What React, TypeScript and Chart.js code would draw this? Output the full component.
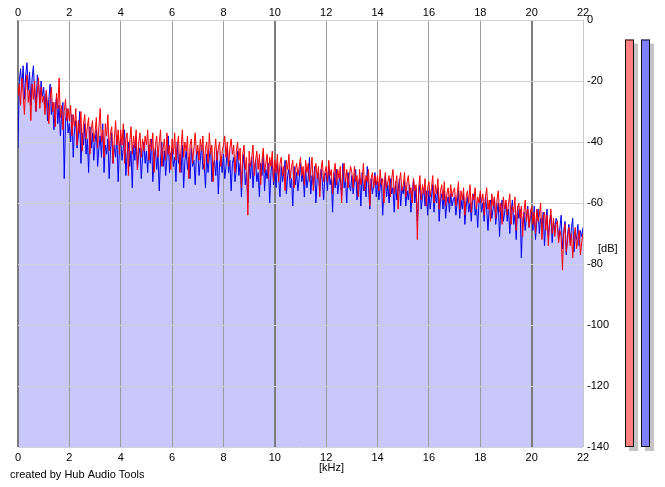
import React, { useEffect, useRef } from "react";
import { Chart, registerables } from "chart.js";

Chart.register(...registerables);

// Spectrum values in dB, one value every 0.05 kHz from 0 to 22 kHz
const FREQ_STEP_KHZ = 0.05;

const leftChannelDb = [
  -25, -21, -28, -19, -24, -31, -22, -18, -27, -23,
  -33, -21, -26, -20, -30, -24, -19, -29, -22, -27,
  -25, -31, -23, -28, -34, -26, -22, -30, -27, -35,
  -24, -29, -19, -32, -28, -36, -30, -26, -33, -29,
  -33, -28, -38, -31, -35, -29, -41, -33, -37, -30,
  -43, -34, -31, -39, -35, -32, -44, -36, -33, -40,
  -37, -32, -42, -35, -29, -40, -36, -45, -34, -38,
  -31, -43, -37, -35, -47, -39, -33, -41, -36, -44,
  -36, -41, -34, -47, -39, -37, -51, -40, -35, -44,
  -38, -42, -36, -49, -40, -37, -45, -39, -43, -38,
  -41, -36, -46, -39, -43, -37, -50, -41, -38, -45,
  -40, -36, -48, -42, -39, -46, -37, -44, -41, -49,
  -39, -44, -37, -46, -41, -38, -50, -42, -36, -45,
  -40, -43, -38, -52, -41, -39, -47, -42, -37, -44,
  -41, -46, -39, -43, -38, -49, -42, -40, -47, -37,
  -44, -41, -53, -43, -39, -46, -42, -40, -48, -43,
  -41, -38, -45, -40, -48, -42, -39, -44, -41, -50,
  -43, -40, -46, -42, -55, -44, -41, -49, -45, -64,
  -43, -48, -45, -41, -51, -46, -43, -49, -44, -54,
  -46, -42, -50, -47, -44, -52, -45, -48, -43, -53,
  -46, -50, -44, -53, -47, -45, -51, -48, -56, -46,
  -49, -44, -52, -48, -46, -55, -49, -47, -51, -48,
  -45, -51, -48, -54, -46, -50, -47, -53, -49, -45,
  -56, -50, -47, -52, -48, -58, -49, -46, -53, -50,
  -48, -53, -46, -51, -49, -57, -50, -47, -54, -49,
  -52, -48, -60, -50, -47, -53, -49, -55, -51, -48,
  -50, -55, -48, -53, -51, -58, -49, -54, -52, -47,
  -56, -51, -53, -49, -61, -52, -50, -55, -51, -54,
  -51, -56, -49, -54, -52, -60, -50, -55, -53, -51,
  -58, -52, -49, -57, -54, -51, -62, -53, -50, -56,
  -54, -50, -58, -53, -51, -57, -55, -60, -52, -56,
  -54, -72, -55, -51, -59, -54, -57, -52, -61, -55,
  -53, -58, -55, -51, -60, -54, -57, -52, -62, -56,
  -54, -59, -53, -61, -57, -55, -60, -54, -58, -56,
  -55, -61, -57, -53, -62, -56, -59, -55, -64, -58,
  -56, -60, -54, -63, -57, -59, -55, -62, -58, -60,
  -56, -60, -57, -64, -58, -55, -62, -59, -66, -57,
  -61, -58, -65, -59, -56, -63, -60, -67, -58, -62,
  -59, -64, -60, -57, -67, -61, -63, -58, -69, -62,
  -60, -65, -61, -71, -63, -59, -66, -62, -68, -63,
  -61, -67, -63, -70, -62, -66, -64, -60, -72, -65,
  -63, -69, -64, -74, -66, -62, -70, -65, -71, -67,
  -66, -73, -69, -71, -82, -70, -67, -76, -72, -68,
  -74, -70, -78, -71, -68, -75, -72, -69, -77, -73,
  -70,
];

const rightChannelDb = [
  -42, -20, -16, -22, -15, -26, -18, -14, -23, -17,
  -28, -19, -15, -24, -30, -18, -21, -27, -20, -25,
  -22, -29, -24, -33, -26, -21, -31, -27, -36, -29,
  -25, -34, -28, -38, -31, -27, -52, -33, -29, -37,
  -34, -40, -31, -45, -36, -33, -42, -38, -30, -47,
  -37, -41, -34, -44, -39, -50, -35, -42, -37, -46,
  -40, -36, -48, -42, -38, -45, -34, -50, -41, -44,
  -39, -52, -43, -37, -47, -41, -45, -38, -53, -42,
  -39, -46, -42, -36, -51, -44, -40, -48, -43, -55,
  -41, -46, -38, -49, -44, -42, -52, -45, -40, -47,
  -43, -50, -41, -47, -39, -53, -45, -42, -49, -44,
  -56, -46, -40, -48, -43, -51, -45, -38, -50, -44,
  -42, -48, -45, -53, -40, -47, -44, -50, -41, -55,
  -46, -43, -49, -45, -52, -42, -48, -46, -54, -44,
  -43, -51, -46, -41, -49, -47, -55, -44, -50, -45,
  -42, -53, -48, -46, -51, -43, -57, -47, -45, -50,
  -44, -52, -48, -42, -50, -46, -56, -47, -45, -53,
  -49, -43, -51, -47, -58, -48, -44, -54, -50, -60,
  -47, -52, -45, -55, -49, -46, -53, -50, -58, -47,
  -51, -44, -56, -49, -52, -47, -60, -50, -46, -54,
  -49, -55, -47, -52, -58, -48, -53, -50, -46, -57,
  -51, -49, -55, -52, -61, -48, -54, -50, -56, -52,
  -47, -53, -50, -58, -49, -55, -52, -45, -57, -51,
  -54, -48, -60, -52, -50, -56, -49, -53, -59, -51,
  -50, -56, -48, -54, -52, -63, -50, -55, -49, -57,
  -53, -51, -58, -47, -55, -52, -60, -50, -54, -56,
  -51, -57, -53, -49, -59, -54, -52, -61, -50, -56,
  -53, -58, -48, -55, -62, -52, -57, -54, -50, -58,
  -53, -59, -55, -52, -64, -56, -51, -58, -54, -60,
  -52, -57, -55, -63, -53, -59, -56, -52, -61, -55,
  -57, -53, -61, -56, -59, -54, -63, -57, -52, -60,
  -55, -66, -57, -54, -62, -58, -55, -61, -56, -64,
  -56, -62, -58, -54, -63, -57, -60, -55, -66, -59,
  -57, -62, -56, -65, -60, -58, -63, -57, -61, -59,
  -58, -64, -60, -56, -65, -59, -62, -57, -67, -61,
  -58, -63, -60, -66, -59, -57, -64, -61, -68, -60,
  -57, -63, -60, -66, -58, -62, -69, -61, -59, -65,
  -62, -58, -67, -63, -60, -71, -62, -59, -66, -63,
  -60, -66, -62, -70, -63, -59, -67, -64, -72, -61,
  -65, -62, -78, -66, -63, -69, -64, -61, -68, -65,
  -63, -69, -61, -72, -66, -62, -70, -65, -68, -63,
  -74, -66, -62, -71, -67, -64, -73, -66, -69, -65,
  -66, -72, -68, -64, -75, -69, -66, -77, -70, -67,
  -73, -68, -65, -76, -70, -72, -67, -74, -69, -71,
  -68,
];

// Level meters (peak dB) for left / right channel
const meterPeaksDb = [-6.4, -6.4];

const X_MIN = 0;
const X_MAX = 22;
const X_STEP = 2;
const Y_MIN = -140;
const Y_MAX = 0;
const Y_STEP = 20;

const FONT = '"Liberation Sans", Arial, sans-serif';

const overlayPlugin = {
  id: "overlay",
  afterDraw(chart: any) {
    const ctx = chart.ctx;
    const y = chart.scales.y;
    const bottom = y.getPixelForValue(Y_MIN);
    const meters = [
      { x: 625, color: "#ff8080", v: meterPeaksDb[0] },
      { x: 641, color: "#8080ff", v: meterPeaksDb[1] },
    ];
    ctx.save();
    meters.forEach((m) => {
      const top = y.getPixelForValue(m.v);
      ctx.fillStyle = "#c4c4c4";
      ctx.fillRect(m.x + 4, top + 4, 9, bottom - top);
      ctx.fillStyle = m.color;
      ctx.fillRect(m.x, top, 9, bottom - top);
      ctx.strokeStyle = "#101010";
      ctx.lineWidth = 1;
      ctx.strokeRect(m.x + 0.5, top + 0.5, 8, bottom - top - 1);
    });
    ctx.fillStyle = "#000";
    ctx.font = `11px ${FONT}`;
    ctx.textBaseline = "middle";
    ctx.textAlign = "left";
    ctx.fillText("[dB]", 598, 249);
    ctx.fillText("[kHz]", 319, 468);
    ctx.fillText("created by Hub Audio Tools", 10, 475);
    ctx.restore();
  },
};

export default function App() {
  const ref = useRef<HTMLCanvasElement | null>(null);

  useEffect(() => {
    if (!ref.current) return;
    const toPoints = (arr: number[]) =>
      arr.map((v, i) => ({ x: +(i * FREQ_STEP_KHZ).toFixed(2), y: v }));

    const chart = new Chart(ref.current, {
      type: "line",
      data: {
        datasets: [
          {
            label: "L",
            data: toPoints(leftChannelDb),
            borderColor: "#ff0000",
            backgroundColor: "#c8c8ff",
            borderWidth: 1,
            pointRadius: 0,
            tension: 0,
            fill: "start",
            xAxisID: "x",
            yAxisID: "y",
          },
          {
            label: "R",
            data: toPoints(rightChannelDb),
            borderColor: "#0000ee",
            backgroundColor: "#c8c8ff",
            borderWidth: 1,
            pointRadius: 0,
            tension: 0,
            fill: "start",
            xAxisID: "x",
            yAxisID: "y",
          },
        ],
      },
      options: {
        responsive: false,
        animation: false,
        events: [],
        layout: { padding: { left: 18, right: 42, top: 0, bottom: 20 } },
        plugins: {
          legend: { display: false },
          tooltip: { enabled: false },
          filler: { drawTime: "beforeDraw" },
        } as any,
        scales: {
          x: {
            type: "linear",
            position: "bottom",
            min: X_MIN,
            max: X_MAX,
            afterFit: (s: any) => {
              s.height = 20;
            },
            border: { display: false },
            grid: {
              drawTicks: false,
              color: (c: any) => {
                const v = c.tick?.value;
                if (v === X_MAX) return "#c8c8c8";
                if (v % 10 === 0) return "#7c7c7c";
                return "#9c9c9c";
              },
              lineWidth: (c: any) => {
                const v = c.tick?.value;
                if (v === X_MAX) return 1;
                return v % 10 === 0 ? 2 : 1;
              },
            },
            ticks: {
              stepSize: X_STEP,
              padding: 4,
              color: "#000",
              maxRotation: 0,
              autoSkip: false,
              font: { family: FONT, size: 11 },
            },
          },
          xTop: {
            type: "linear",
            position: "top",
            min: X_MIN,
            max: X_MAX,
            afterFit: (s: any) => {
              s.height = 20;
            },
            border: { display: false },
            grid: { display: false, drawTicks: false },
            ticks: {
              stepSize: X_STEP,
              padding: 0,
              color: "#000",
              maxRotation: 0,
              autoSkip: false,
              font: { family: FONT, size: 11 },
            },
          },
          y: {
            type: "linear",
            position: "right",
            min: Y_MIN,
            max: Y_MAX,
            afterFit: (s: any) => {
              s.width = 40;
            },
            border: { display: false },
            grid: { drawTicks: false, color: "#d0d0d8", lineWidth: 1 },
            ticks: {
              stepSize: Y_STEP,
              padding: 4,
              color: "#000",
              font: { family: FONT, size: 11 },
            },
          },
        },
      },
      plugins: [overlayPlugin],
    });
    return () => chart.destroy();
  }, []);

  return (
    <div style={{ position: "absolute", left: 0, top: 0, width: 665, height: 487, background: "#fff" }}>
      <canvas ref={ref} width={665} height={487} style={{ display: "block" }} />
    </div>
  );
}
